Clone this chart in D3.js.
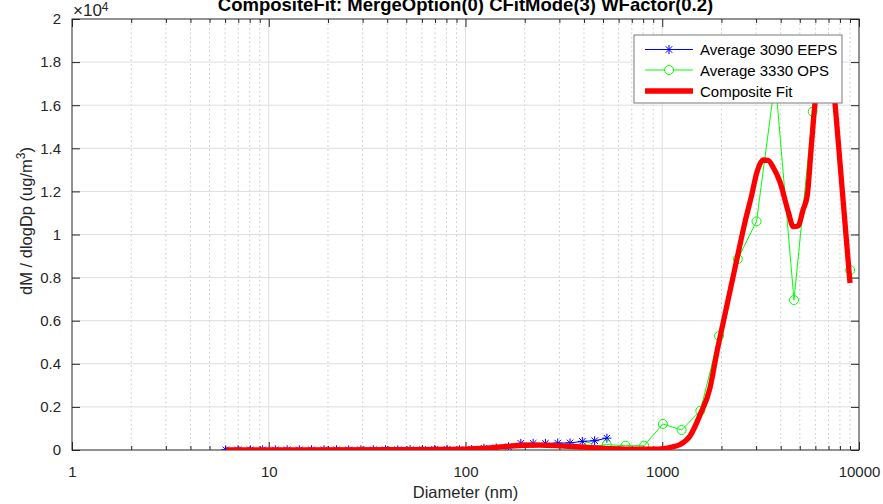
<!DOCTYPE html>
<html>
<head>
<meta charset="utf-8">
<script src="https://cdn.jsdelivr.net/npm/d3@7"></script>
<style>
  html, body { margin: 0; padding: 0; background: #fff; }
  svg { display: block; font-family: "Liberation Sans", Arial, sans-serif; }
</style>
</head>
<body>
<svg id="chart" width="883" height="504"></svg>
<script>
// EEPS channel midpoints (nm) and averaged mass distribution
const eepsDiam = [6.04, 6.98, 8.06, 9.31, 10.8, 12.4, 14.3, 16.5, 19.1, 22.1, 25.5, 29.4,
  34.0, 39.2, 45.3, 52.3, 60.4, 69.8, 80.6, 93.1, 107.5, 124.1, 143.3, 165.5, 191.1,
  220.7, 254.8, 294.3, 339.8, 392.4, 453.2, 523.3];
const eepsVal = [10, 10, 10, 10, 10, 10, 10, 10, 10, 10, 10, 10, 10, 10, 10, 15, 20, 25,
  30, 10, 20, 80, 90, 150, 310, 310, 310, 320, 330, 400, 430, 550];

// OPS channel midpoints (nm) and averaged mass distribution
const opsDiam = [337, 419, 522, 650, 809, 1007, 1254, 1562, 1944, 2421, 3014, 3752,
  4672, 5816, 7241, 9016];
const opsVal = [70, 150, 250, 200, 200, 1210, 930, 1820, 5290, 8860, 10610, 17200,
  6960, 15700, 18500, 8350];

// Composite fit evaluated across the merged size range
const fitDiam = [6.06, 14.4, 46.5, 83.4, 118.5, 158.8, 200.7, 239, 302, 382, 483, 610,
  771, 919, 1009, 1121, 1231, 1384, 1555, 1748, 1905, 2134, 2390, 2634, 2849, 3031,
  3263, 3459, 3655, 3967, 4373, 4636, 4898, 5194, 5463, 5702, 5975, 6225, 6484, 6797,
  7039, 7291, 7551, 8008, 8487, 9002];
const fitVal = [0, 10, 20, 25, 70, 160, 220, 230, 195, 140, 90, 55, 40, 40, 65, 140,
  255, 650, 1624, 2877, 4640, 6729, 8817, 10580, 11833, 12900, 13457, 13434, 13132,
  12436, 11044, 10362, 10394, 11137, 11833, 13893, 16102, 17400, 18100, 18450, 18350,
  17600, 16100, 13318, 10534, 7749];

const xMajor = [1, 10, 100, 1000, 10000];
const yTicks = [0, 2000, 4000, 6000, 8000, 10000, 12000, 14000, 16000, 18000, 20000];

const titleText = "CompositeFit: MergeOption(0) CFitMode(3) WFactor(0.2)";
const xLabelText = "Diameter (nm)";
const legendLabels = ["Average 3090 EEPS", "Average 3330 OPS", "Composite Fit"];

const svg = d3.select("#chart");
const L = 72, R = 859, T = 19, B = 450;
const ink = "#262626";

const x = d3.scaleLog().domain([1, 10000]).range([L, R]);
const y = d3.scaleLinear().domain([0, 20000]).range([B, T]);

const xMinor = [];
for (let dec = 1; dec < 10000; dec *= 10) {
  for (let k = 2; k <= 9; k++) xMinor.push(dec * k);
}

// grid
const grid = svg.append("g");
grid.selectAll("line.minor").data(xMinor).join("line")
  .attr("x1", d => x(d)).attr("x2", d => x(d)).attr("y1", T).attr("y2", B)
  .attr("stroke", "#c8c8c8").attr("stroke-width", 1).attr("stroke-dasharray", "1.5,3");
grid.selectAll("line.vmajor").data(xMajor.slice(1, -1)).join("line")
  .attr("x1", d => x(d)).attr("x2", d => x(d)).attr("y1", T).attr("y2", B)
  .attr("stroke", "#dedede").attr("stroke-width", 1);
grid.selectAll("line.hmajor").data(yTicks.slice(1, -1)).join("line")
  .attr("x1", L).attr("x2", R).attr("y1", d => y(d)).attr("y2", d => y(d))
  .attr("stroke", "#dedede").attr("stroke-width", 1);

// axes with inward ticks
function styleAxis(g) {
  g.select(".domain").remove();
  g.selectAll("line").attr("stroke", ink);
  g.selectAll("text").attr("fill", ink).style("font-size", "15px")
    .style("font-family", "'Liberation Sans', Arial, sans-serif");
}
svg.append("g").attr("transform", `translate(0,${B})`)
  .call(d3.axisBottom(x).tickValues(xMajor).tickSize(-8).tickPadding(16)
    .tickFormat(d3.format("d")))
  .call(styleAxis);
svg.append("g").attr("transform", `translate(0,${B})`)
  .call(d3.axisBottom(x).tickValues(xMinor).tickSize(-4).tickFormat(""))
  .call(styleAxis);
svg.append("g").attr("transform", `translate(0,${T})`)
  .call(d3.axisTop(x).tickValues(xMajor).tickSize(-8).tickFormat(""))
  .call(styleAxis);
svg.append("g").attr("transform", `translate(0,${T})`)
  .call(d3.axisTop(x).tickValues(xMinor).tickSize(-4).tickFormat(""))
  .call(styleAxis);
svg.append("g").attr("transform", `translate(${L},0)`)
  .call(d3.axisLeft(y).tickValues(yTicks).tickSize(-8).tickPadding(11)
    .tickFormat(d => d3.format("~g")(d / 1e4)))
  .call(styleAxis);
svg.append("g").attr("transform", `translate(${R},0)`)
  .call(d3.axisRight(y).tickValues(yTicks).tickSize(-8).tickFormat(""))
  .call(styleAxis);

// box
svg.append("rect").attr("x", L).attr("y", T).attr("width", R - L).attr("height", B - T)
  .attr("fill", "none").attr("stroke", ink).attr("stroke-width", 1);

// exponent label
const expo = svg.append("text").attr("x", 73).attr("y", 15.5).attr("fill", ink)
  .style("font-size", "17px");
expo.append("tspan").text("\u00d710");
expo.append("tspan").attr("dy", -5).style("font-size", "12px").text("4");

// data
const clipId = "plotClip";
svg.append("clipPath").attr("id", clipId).append("rect")
  .attr("x", L).attr("y", T).attr("width", R - L).attr("height", B - T);
const plot = svg.append("g").attr("clip-path", `url(#${clipId})`);

const eeps = eepsDiam.map((d, i) => [d, eepsVal[i]]);
const ops = opsDiam.map((d, i) => [d, opsVal[i]]);
const fit = fitDiam.map((d, i) => [d, fitVal[i]]);
const line = d3.line().x(d => x(d[0])).y(d => y(d[1]));

function asterisk(g, cx, cy, s, color) {
  const a = s / 2, b = a * 0.72;
  const p = `M${cx - a},${cy}L${cx + a},${cy}M${cx},${cy - a}L${cx},${cy + a}` +
    `M${cx - b},${cy - b}L${cx + b},${cy + b}M${cx - b},${cy + b}L${cx + b},${cy - b}`;
  g.append("path").attr("d", p).attr("stroke", color).attr("stroke-width", 1).attr("fill", "none");
}

plot.append("path").attr("d", line(eeps)).attr("fill", "none")
  .attr("stroke", "#0000ff").attr("stroke-width", 1);
eeps.forEach(d => asterisk(plot, x(d[0]), y(d[1]), 9, "#0000ff"));

plot.append("path").attr("d", line(ops)).attr("fill", "none")
  .attr("stroke", "#00ff00").attr("stroke-width", 1);
plot.selectAll("circle.ops").data(ops).join("circle")
  .attr("cx", d => x(d[0])).attr("cy", d => y(d[1])).attr("r", 4.5)
  .attr("fill", "none").attr("stroke", "#00ff00").attr("stroke-width", 1);

plot.append("path").attr("d", d3.line().x(d => x(d[0])).y(d => y(d[1]))
    .curve(d3.curveMonotoneX)(fit))
  .attr("fill", "none").attr("stroke", "#ff0000").attr("stroke-width", 5.3)
  .attr("stroke-linejoin", "round");

// title and axis labels
svg.append("text").attr("x", (L + R) / 2).attr("y", 11).attr("text-anchor", "middle")
  .attr("fill", "#000").style("font-size", "18.5px").style("font-weight", "bold")
  .text(titleText);
svg.append("text").attr("x", (L + R) / 2).attr("y", 498).attr("text-anchor", "middle")
  .attr("fill", ink).style("font-size", "16.5px").text(xLabelText);
const yl = svg.append("text").attr("transform", "translate(32,221) rotate(-90)")
  .attr("text-anchor", "middle").attr("fill", ink).style("font-size", "16.5px");
yl.append("tspan").text("dM / dlogDp (ug/m");
yl.append("tspan").attr("dy", -7).style("font-size", "12px").text("3");
yl.append("tspan").attr("dy", 7).text(")");

// legend
const lg = svg.append("g");
lg.append("rect").attr("x", 634).attr("y", 35).attr("width", 208).attr("height", 68)
  .attr("fill", "#fff").attr("stroke", "#7a7a7a").attr("stroke-width", 1);
const rows = [49.5, 70, 91];
legendLabels.forEach((t, i) => {
  lg.append("text").attr("x", 700).attr("y", rows[i] + 5.5).attr("fill", "#000")
    .style("font-size", "15px").text(t);
});
lg.append("line").attr("x1", 645).attr("x2", 693).attr("y1", rows[0]).attr("y2", rows[0])
  .attr("stroke", "#0000ff").attr("stroke-width", 1);
asterisk(lg, 669, rows[0], 9, "#0000ff");
lg.append("line").attr("x1", 645).attr("x2", 693).attr("y1", rows[1]).attr("y2", rows[1])
  .attr("stroke", "#00ff00").attr("stroke-width", 1);
lg.append("circle").attr("cx", 669).attr("cy", rows[1]).attr("r", 4.5)
  .attr("fill", "#fff").attr("stroke", "#00ff00").attr("stroke-width", 1);
lg.append("line").attr("x1", 645).attr("x2", 693).attr("y1", rows[2]).attr("y2", rows[2])
  .attr("stroke", "#ff0000").attr("stroke-width", 5.3);
</script>
</body>
</html>
